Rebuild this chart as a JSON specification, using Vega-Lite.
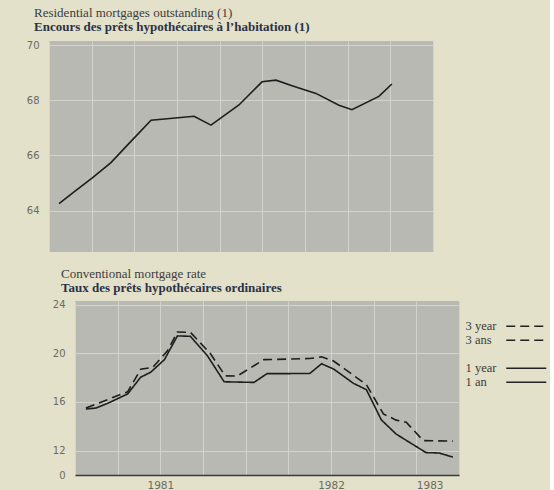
{
  "$schema": "https://vega.github.io/schema/vega-lite/v6.json",
  "background": "#e3e1c9",
  "padding": {"left": 26, "top": 7, "right": 0, "bottom": 0},
  "spacing": 15,
  "resolve": {"legend": {"strokeDash": "independent"}, "scale": {"x": "independent"}},
  "config": {
    "view": {"fill": "#b7b9b2", "stroke": null},
    "axis": {"gridColor": "#d3d4cc", "gridWidth": 1, "gridOpacity": 1, "labelFont": "DejaVu Sans", "labelFontSize": 10, "labelColor": "#6b6b63", "ticks": false, "domain": false, "title": null},
    "legend": {"labelColor": "#3a3a3a"},
    "title": {"font": "Liberation Serif", "fontSize": 13, "fontWeight": "normal", "color": "#3c3c3c", "subtitleFont": "Liberation Serif", "subtitleFontSize": 13, "subtitleFontWeight": "bold", "subtitleColor": "#2b3148", "anchor": "start", "frame": "group", "subtitlePadding": 1}
  },
  "datasets": {
    "stock": [
      {"year": 1981.059, "value": 64.25},
      {"year": 1981.158, "value": 64.73},
      {"year": 1981.252, "value": 65.18},
      {"year": 1981.363, "value": 65.74},
      {"year": 1981.469, "value": 66.44},
      {"year": 1981.598, "value": 67.28},
      {"year": 1981.85, "value": 67.42},
      {"year": 1981.949, "value": 67.1},
      {"year": 1982.113, "value": 67.83},
      {"year": 1982.248, "value": 68.67},
      {"year": 1982.33, "value": 68.73},
      {"year": 1982.424, "value": 68.53},
      {"year": 1982.564, "value": 68.25},
      {"year": 1982.699, "value": 67.82},
      {"year": 1982.775, "value": 67.66},
      {"year": 1982.933, "value": 68.14},
      {"year": 1983.009, "value": 68.59}
    ],
    "rate": [
      {"year": 1981.064, "series": "1 year", "value": 15.43},
      {"year": 1981.122, "series": "1 year", "value": 15.5},
      {"year": 1981.192, "series": "1 year", "value": 15.89},
      {"year": 1981.309, "series": "1 year", "value": 16.67},
      {"year": 1981.385, "series": "1 year", "value": 18.04},
      {"year": 1981.443, "series": "1 year", "value": 18.44},
      {"year": 1981.524, "series": "1 year", "value": 19.48},
      {"year": 1981.6, "series": "1 year", "value": 21.43},
      {"year": 1981.676, "series": "1 year", "value": 21.4},
      {"year": 1981.775, "series": "1 year", "value": 19.82},
      {"year": 1981.874, "series": "1 year", "value": 17.66},
      {"year": 1982.049, "series": "1 year", "value": 17.61},
      {"year": 1982.125, "series": "1 year", "value": 18.33},
      {"year": 1982.375, "series": "1 year", "value": 18.34},
      {"year": 1982.445, "series": "1 year", "value": 19.14},
      {"year": 1982.515, "series": "1 year", "value": 18.71},
      {"year": 1982.632, "series": "1 year", "value": 17.53},
      {"year": 1982.707, "series": "1 year", "value": 17.02},
      {"year": 1982.795, "series": "1 year", "value": 14.53},
      {"year": 1982.882, "series": "1 year", "value": 13.36},
      {"year": 1982.958, "series": "1 year", "value": 12.7},
      {"year": 1983.057, "series": "1 year", "value": 11.84},
      {"year": 1983.133, "series": "1 year", "value": 11.81},
      {"year": 1983.214, "series": "1 year", "value": 11.47},
      {"year": 1981.064, "series": "3 year", "value": 15.51},
      {"year": 1981.309, "series": "3 year", "value": 16.84},
      {"year": 1981.385, "series": "3 year", "value": 18.7},
      {"year": 1981.455, "series": "3 year", "value": 18.84},
      {"year": 1981.542, "series": "3 year", "value": 20.21},
      {"year": 1981.6, "series": "3 year", "value": 21.75},
      {"year": 1981.676, "series": "3 year", "value": 21.73},
      {"year": 1981.793, "series": "3 year", "value": 19.98},
      {"year": 1981.88, "series": "3 year", "value": 18.15},
      {"year": 1981.95, "series": "3 year", "value": 18.13},
      {"year": 1982.107, "series": "3 year", "value": 19.48},
      {"year": 1982.375, "series": "3 year", "value": 19.57},
      {"year": 1982.445, "series": "3 year", "value": 19.71},
      {"year": 1982.515, "series": "3 year", "value": 19.37},
      {"year": 1982.707, "series": "3 year", "value": 17.43},
      {"year": 1982.807, "series": "3 year", "value": 15.02},
      {"year": 1982.882, "series": "3 year", "value": 14.51},
      {"year": 1982.941, "series": "3 year", "value": 14.33},
      {"year": 1983.04, "series": "3 year", "value": 12.83},
      {"year": 1983.214, "series": "3 year", "value": 12.78}
    ]
  },
  "vconcat": [
    {
      "title": {"text": "Residential mortgages outstanding (1)", "subtitle": "Encours des prêts hypothécaires à l’habitation (1)", "dx": -15, "offset": 6},
      "width": 384,
      "height": 211,
      "data": {"name": "stock"},
      "mark": {"type": "line", "color": "#1e1e1e", "strokeWidth": 1.6},
      "encoding": {
        "x": {"field": "year", "type": "quantitative", "scale": {"domain": [1981, 1983.25], "nice": false, "zero": false},
              "axis": {"values": [1981, 1981.25, 1981.5, 1981.75, 1982, 1982.25, 1982.5, 1982.75, 1983, 1983.25], "labels": false, "grid": true}},
        "y": {"field": "value", "type": "quantitative", "scale": {"domain": [62.5, 70.15], "nice": false, "zero": false},
              "axis": {"values": [64, 66, 68, 70], "labelPadding": 10, "grid": true}}
      }
    },
    {
      "spacing": 0,
      "resolve": {"legend": {"strokeDash": "independent"}},
      "hconcat": [
        {
          "width": 3,
          "height": 10,
          "view": {"fill": null, "stroke": null},
          "data": {"values": [{}]},
          "mark": {"type": "rule", "opacity": 0},
          "encoding": {}
        },
        {
          "title": {"text": "Conventional mortgage rate", "subtitle": "Taux des prêts hypothécaires ordinaires", "dx": -14, "offset": 5},
          "width": 384,
          "height": 174,
          "data": {"name": "rate"},
          "mark": {"type": "line", "color": "#1e1e1e", "strokeWidth": 1.6},
          "encoding": {
            "x": {"field": "year", "type": "quantitative", "scale": {"domain": [1981, 1983.25], "nice": false, "zero": false},
                  "axis": {"values": [1981, 1981.25, 1981.5, 1981.75, 1982, 1982.25, 1982.5, 1982.75, 1983, 1983.25], "grid": true,
                           "labelExpr": "datum.value == 1981.5 ? '1981' : datum.value == 1982.5 ? '1982' : datum.value == 1983 ? '1983' : ''",
                           "labelAlign": {"condition": {"test": "datum.value == 1983", "value": "left"}, "value": "center"},
                           "labelPadding": 5, "labelFontSize": 10.5, "domain": true, "domainColor": "#3a3a38", "domainWidth": 1.5}},
            "y": {"field": "value", "type": "quantitative", "scale": {"domain": [10, 24.3], "nice": false, "zero": false},
                  "axis": {"values": [10, 12, 16, 20, 24], "labelPadding": 10, "grid": true,
                           "labelExpr": "datum.value == 10 ? '0' : datum.label"}},
            "strokeDash": {"field": "series", "type": "nominal",
              "scale": {"domain": ["3 year", "3 ans", " ", "1 year", "1 an"], "range": [[9, 5], [9, 5], [0, 100], [1, 0], [1, 0]]},
              "legend": {"orient": "none", "legendX": 389, "legendY": 19, "title": null, "padding": 0,
                         "symbolType": "M-4,0H4", "symbolSize": 100, "symbolStrokeWidth": 1.5, "symbolStrokeColor": "#222222",
                         "symbolOffset": 56, "labelOffset": -67, "rowPadding": 1,
                         "labelFont": "Liberation Serif", "labelFontSize": 12.5, "labelColor": "#3a3a3a"}}
          }
        }
      ]
    }
  ]
}
